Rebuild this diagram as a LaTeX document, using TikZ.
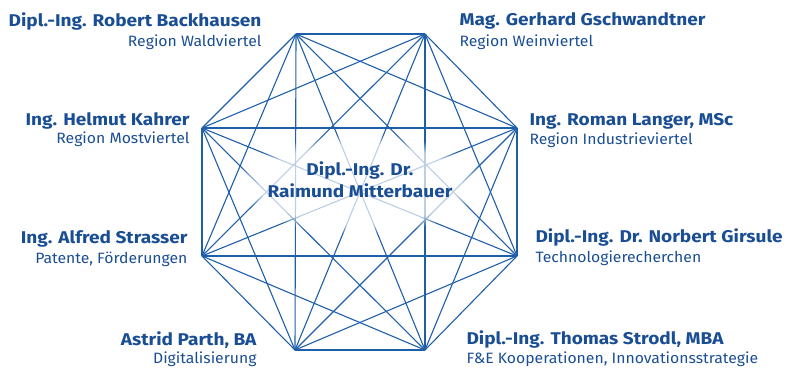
\documentclass[tikz,border=0pt]{standalone}
\usepackage{fontspec}
\setmainfont{Fira Sans}
\newfontfamily\namefont[FakeStretch=1.12]{Fira Sans}
\newfontfamily\fieldfont[FakeStretch=1.05]{Fira Sans}
\usetikzlibrary{fadings}

\definecolor{netblue}{HTML}{1F5FAA}
\definecolor{textblue}{HTML}{1A4E94}

\begin{document}
\begin{tikzpicture}[x=1pt,y=-1pt,line width=1.1pt]
      \tikzstyle{every node}=[inner sep=0pt,text=textblue]
      \tikzstyle{person}=[font=\namefont\fontsize{17}{19}\selectfont\bfseries]
      \tikzstyle{field}=[font=\fieldfont\fontsize{15}{17}\selectfont]
      \useasboundingbox (0,0) rectangle (789,367);
      %
      \coordinate (tl) at (296,34);
      \coordinate (tr) at (425,34);
      \coordinate (ru) at (517,128);
      \coordinate (rl) at (517,256);
      \coordinate (br) at (425,350);
      \coordinate (bl) at (295,350);
      \coordinate (ll) at (202,256);
      \coordinate (lu) at (202,128);
      %
      \foreach \a/\rest in {tl/{tr,ru,rl,br,bl,ll,lu},tr/{ru,rl,br,bl,ll,lu},
                            ru/{rl,br,bl,ll,lu},rl/{br,bl,ll,lu},br/{bl,ll,lu},
                            bl/{ll,lu},ll/{lu}}
        \foreach \b in \rest
          \draw[netblue] (\a) -- (\b);
      %
      \fill[white,opacity=.7,path fading=circle with fuzzy edge 20 percent]
        (360,184) ellipse (125 and 50);
      %
      \node [person,anchor=base] (chief1) at (360,175) {Dipl.-Ing. Dr.};
      \node [person,anchor=base] (chief2) at (360,197) {Raimund Mitterbauer};
      %
      \node [person,anchor=base east] (backhausen) at (262,26) {Dipl.-Ing. Robert Backhausen};
      \node [field,anchor=base east]  (waldviertel) at (262,46) {Region Waldviertel};
      \node [person,anchor=base west] (gschwandtner) at (459,25) {Mag. Gerhard Gschwandtner};
      \node [field,anchor=base west]  (weinviertel) at (459,46) {Region Weinviertel};
      \node [person,anchor=base east] (kahrer) at (190,125) {Ing. Helmut Kahrer};
      \node [field,anchor=base east]  (mostviertel) at (190,143) {Region Mostviertel};
      \node [person,anchor=base west] (langer) at (529,125) {Ing. Roman Langer, MSc};
      \node [field,anchor=base west]  (industrieviertel) at (529,144) {Region Industrieviertel};
      \node [person,anchor=base east] (strasser) at (188,243) {Ing. Alfred Strasser};
      \node [field,anchor=base east]  (patente) at (188,263) {Patente, Förderungen};
      \node [person,anchor=base west] (girsule) at (535,242) {Dipl.-Ing. Dr. Norbert Girsule};
      \node [field,anchor=base west]  (recherchen) at (535,262) {Technologierecherchen};
      \node [person,anchor=base east] (parth) at (257,345) {Astrid Parth, BA};
      \node [field,anchor=base east]  (digital) at (257,363) {Digitalisierung};
      \node [person,anchor=base west] (strodl) at (466,344) {Dipl.-Ing. Thomas Strodl, MBA};
      \node [field,anchor=base west]  (kooperation) at (466,363) {F\&E Kooperationen, Innovationsstrategie};
    \end{tikzpicture}
\end{document}
